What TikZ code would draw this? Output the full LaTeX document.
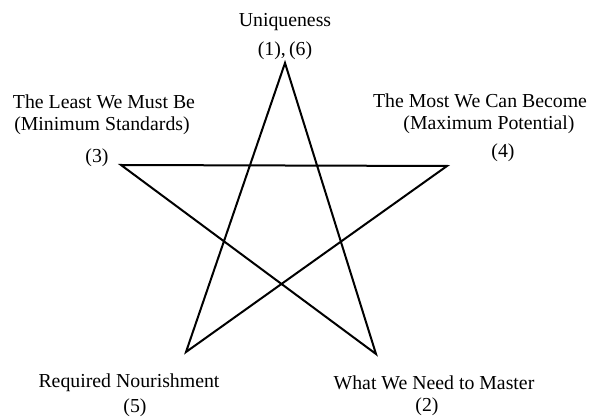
\documentclass[tikz,border=0pt]{standalone}
\usepackage{fontspec}
\setmainfont{Liberation Serif}
\begin{document}
\begin{tikzpicture}[x=1pt,y=-1pt,
  lbl/.style={anchor=base,inner sep=0pt,font=\fontsize{19.8}{22}\selectfont},
  starline/.style={line width=2pt,line join=miter}]
\useasboundingbox (0,0) rectangle (592,419);
\coordinate (A) at (285,63);
\coordinate (B) at (121,165);
\coordinate (C) at (447,166);
\coordinate (D) at (186,352);
\coordinate (E) at (376,354);
\draw[starline] (A) -- (D) -- (C) -- (B) -- (E) -- cycle;
\node[lbl] (t1) at (285,27) {Uniqueness};
\node[lbl] (t1n) at (285,56) {(1),\,(6)};
\node[lbl] (t3) at (104,109) {The Least We Must Be};
\node[lbl] (t3b) at (102,131) {(Minimum Standards)};
\node[lbl] (t3n) at (97,163) {(3)};
\node[lbl] (t4) at (480,108) {The Most We Can Become};
\node[lbl] (t4b) at (489,130) {(Maximum Potential)};
\node[lbl] (t4n) at (503,158) {(4)};
\node[lbl] (t5) at (129,388) {Required Nourishment};
\node[lbl] (t5n) at (135,413) {(5)};
\node[lbl] (t2) at (434,390) {What We Need to Master};
\node[lbl] (t2n) at (427,412) {(2)};
\end{tikzpicture}
\end{document}
